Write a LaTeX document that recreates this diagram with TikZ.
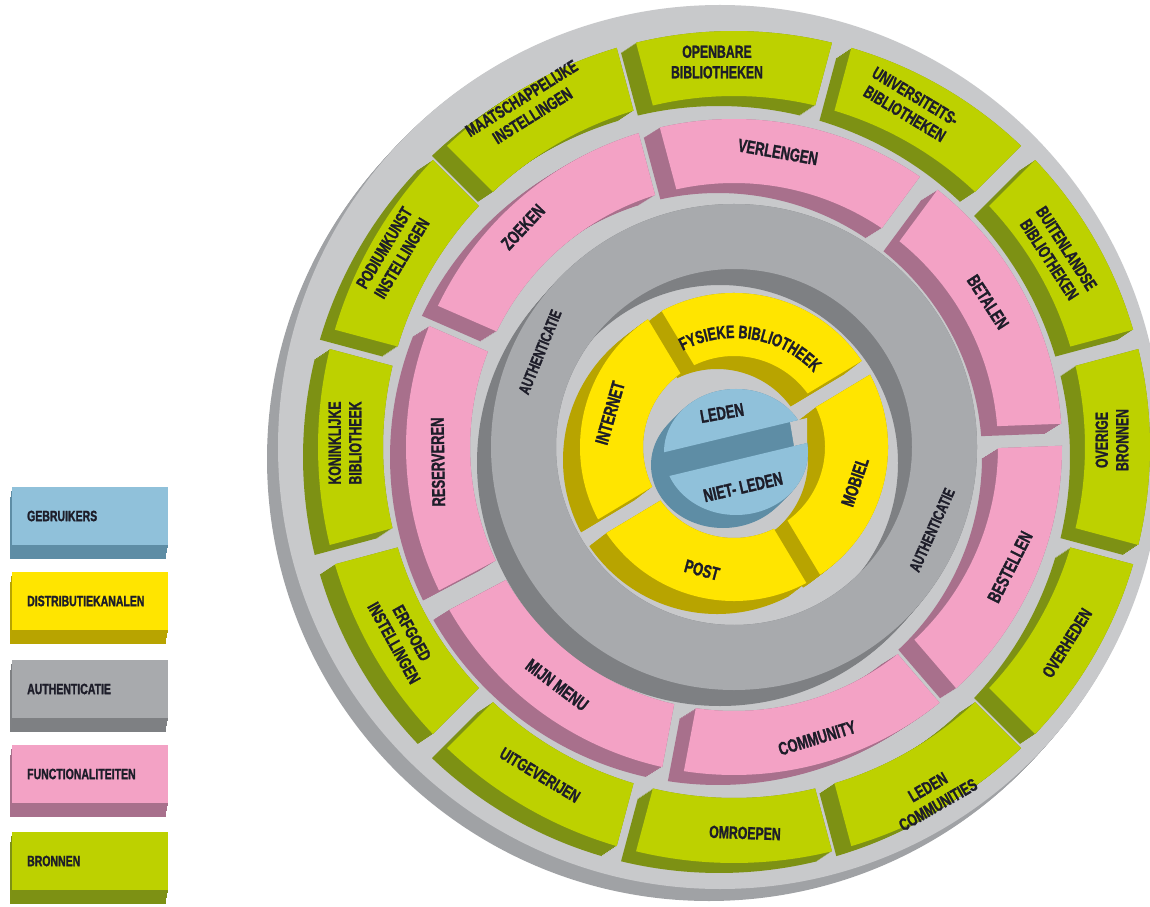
\documentclass[tikz,border=0pt]{standalone}
\usepackage{fontspec}
\newfontfamily\lblfont[FakeStretch=0.7,FakeBold=1.3]{Liberation Sans}
\usetikzlibrary{decorations.text}
\definecolor{discL}{HTML}{C8C9CB}
\definecolor{discD}{HTML}{A0A2A5}
\definecolor{grnL}{HTML}{BDD100}
\definecolor{grnD}{HTML}{7D9114}
\definecolor{pnkL}{HTML}{F3A2C5}
\definecolor{pnkD}{HTML}{A8708C}
\definecolor{gryL}{HTML}{A8AAAD}
\definecolor{gryD}{HTML}{7E8083}
\definecolor{ylwL}{HTML}{FFE500}
\definecolor{ylwD}{HTML}{B8A400}
\definecolor{bluL}{HTML}{90C1DA}
\definecolor{bluD}{HTML}{5E8DA5}
\definecolor{ink}{HTML}{1D1D29}
% a1 a2 ri ro halfgap
\newcommand\rsangles[5]{%
  \pgfmathsetmacro\rsAo{(#1)+asin((#5)/(#4))}%
  \pgfmathsetmacro\rsBo{(#2)-asin((#5)/(#4))}%
  \pgfmathsetmacro\rsAi{(#1)+asin((#5)/(#3))}%
  \pgfmathsetmacro\rsBi{(#2)-asin((#5)/(#3))}%
}
% a1 a2 ri ro h dx dy color
\newcommand\segdark[8]{%
  \rsangles{#1}{#2}{#3}{#4}{#5}%
  \foreach \kk in {0,1,...,10}{%
    \fill[#8,shift={({\kk*(#6)/10},{\kk*(#7)/10})}] (\rsAo:#4) arc[start angle=\rsAo,end angle=\rsBo,radius=#4] -- (\rsBi:#3) arc[start angle=\rsBi,end angle=\rsAi,radius=#3] -- cycle;}%
}
% a1 a2 ri ro h color
\newcommand\segtop[6]{%
  \rsangles{#1}{#2}{#3}{#4}{#5}%
  \fill[#6] (\rsAo:#4) arc[start angle=\rsAo,end angle=\rsBo,radius=#4] -- (\rsBi:#3) arc[start angle=\rsBi,end angle=\rsAi,radius=#3] -- cycle;%
}
\begin{document}
\begin{tikzpicture}[x=1pt,y=1pt]
\tikzset{
 lbl/.style={font=\lblfont\bfseries\fontsize{17.5}{20.5}\selectfont,text=ink,align=center,inner sep=0pt},
 plbl/.style={lbl,font=\lblfont\bfseries\fontsize{18.5}{21}\selectfont},
 albl/.style={lbl,font=\lblfont\bfseries\fontsize{16}{19}\selectfont},
 legtxt/.style={lbl,anchor=west,font=\lblfont\bfseries\fontsize{15}{18}\selectfont},
}
\useasboundingbox (0,0) rectangle (1150,906);
\fill[white] (0,0) rectangle (1150,906);
\clip (0,0) rectangle (1150,906);

% base disc
\begin{scope}[shift={(720,459)}]
 \foreach \kk in {1,...,10}{\fill[discD,shift={({-1.1*\kk},{-1.2*\kk})}] (0,0) circle[radius=442];}
 \fill[discL] (0,0) circle[radius=442];
\end{scope}

\begin{scope}[shift={(734,459)}]
 % side walls
 \foreach \cc in {90,60,...,-240}{\segdark{\cc-15}{\cc+15}{351}{416}{10}{-15}{-10}{grnD}}
 \foreach \pk in {0,...,6}{\segdark{105-51.4286*(\pk+1)}{105-51.4286*\pk}{264}{328}{11}{-16}{-10}{pnkD}}
 \foreach \kk in {0,...,10}{\fill[gryD,even odd rule,shift={({-1.4*\kk},{-1.6*\kk})}] (0,0) circle[radius=243] (0,0) circle[radius=178];}
 \foreach \aa/\bb in {31/121,-59/31,-149/-59,-239/-149}{\segdark{\aa}{\bb}{91}{154}{8}{-17}{-13}{ylwD}}
 % top faces
 \foreach \cc in {90,60,...,-240}{\segtop{\cc-15}{\cc+15}{351}{416}{10}{grnL}}
 \foreach \pk in {0,...,6}{\segtop{105-51.4286*(\pk+1)}{105-51.4286*\pk}{264}{328}{11}{pnkL}}
 \fill[gryL,even odd rule] (0,0) circle[radius=243] (0,0) circle[radius=178];
 \foreach \aa/\bb in {31/121,-59/31,-149/-59,-239/-149}{\segtop{\aa}{\bb}{91}{154}{8}{ylwL}}
\end{scope}

% users disc
\begin{scope}[shift={(736,454)}]
 \foreach \kk in {0,...,10}{\fill[bluD,shift={({-1.3*\kk},{-1.3*\kk})}] (0,0) ellipse[x radius=72,y radius=63];}
 \fill[discL] (54,30) -- (71,34) -- (71,9) -- (58,6) -- cycle;
 \begin{scope}
  \clip[shift={(0,17)},rotate=13.5] (-160,0) rectangle (160,160);
  \fill[bluL] (0,0) ellipse[x radius=72,y radius=63];
 \end{scope}
 \begin{scope}
  \clip[shift={(0,-8)},rotate=13.5] (-160,-160) rectangle (160,0);
  \fill[bluL] (0,0) ellipse[x radius=72,y radius=63];
 \end{scope}
\end{scope}

% BRONNEN labels
\node[lbl] (openbare) at (717,844) {OPENBARE\\BIBLIOTHEKEN};
\node[lbl,rotate=-31] (univ) at (910,801) {UNIVERSITEITS-\\BIBLIOTHEKEN};
\node[lbl,rotate=-57] (buiten) at (1058,652) {BUITENLANDSE\\BIBLIOTHEKEN};
\node[lbl,rotate=90] (overige) at (1112,466) {OVERIGE\\BRONNEN};
\node[lbl,rotate=58] (overheden) at (1067,263) {OVERHEDEN};
\node[lbl,rotate=30] (ledencom) at (933,110) {LEDEN\\COMMUNITIES};
\node[lbl,rotate=-2] (omroepen) at (745,73) {OMROEPEN};
\node[lbl,rotate=-31] (uitgev) at (540,131) {UITGEVERIJEN};
\node[lbl,rotate=-61] (erfgoed) at (403,268) {ERFGOED\\INSTELLINGEN};
\node[lbl,rotate=90] (konink) at (345,463) {KONINKLIJKE\\BIBLIOTHEEK};
\node[lbl,rotate=59] (podium) at (393,653) {PODIUMKUNST\\INSTELLINGEN};
\node[lbl,rotate=32] (maatsch) at (527,799) {MAATSCHAPPELIJKE\\INSTELLINGEN};

% FUNCTIONALITEITEN labels
\node[plbl,rotate=-10] (verlengen) at (778,754) {VERLENGEN};
\node[plbl,rotate=-57] (betalen) at (988,604) {BETALEN};
\node[plbl,rotate=63] (bestellen) at (1010,339) {BESTELLEN};
\node[plbl,rotate=17] (community) at (817,168) {COMMUNITY};
\node[plbl,rotate=-37] (mijnmenu) at (557,221) {MIJN MENU};
\node[plbl,rotate=91] (reserveren) at (438,444) {RESERVEREN};
\node[plbl,rotate=47] (zoeken) at (523,679) {ZOEKEN};

% AUTHENTICATIE labels
\node[albl,rotate=68] (authL) at (540,554) {AUTHENTICATIE};
\node[albl,rotate=66] (authR) at (932,376) {AUTHENTICATIE};

% DISTRIBUTIEKANALEN labels
\node[plbl,rotate=71] (mobiel) at (855,424) {MOBIEL};
\node[plbl,rotate=-15] (post) at (702,336) {POST};
\node[plbl,rotate=74] (internet) at (610,493) {INTERNET};
\path[decorate,decoration={text along path,text align=center,
  text={|\lblfont\bfseries\fontsize{18}{20}\selectfont\color{ink}|FYSIEKE BIBLIOTHEEK}}]
  (734,459) ++(119:109) arc[start angle=119,end angle=42,radius=109];

% GEBRUIKERS labels
\node[plbl,rotate=10] (leden) at (722,493) {LEDEN};
\node[plbl,rotate=13] (nietleden) at (743,419) {NIET- LEDEN};

% legend
\foreach \tt/\cl/\cd/\txt [count=\n] in {487/bluL/bluD/GEBRUIKERS,572/ylwL/ylwD/DISTRIBUTIEKANALEN,660/gryL/gryD/AUTHENTICATIE,745/pnkL/pnkD/FUNCTIONALITEITEN,832/grnL/grnD/BRONNEN}{
  \foreach \kk in {1,...,10}{\fill[\cd,shift={({-0.25*\kk},{-1.4*\kk})}] (12,{906-\tt-58}) rectangle (168,{906-\tt});}
  \fill[\cl] (12,{906-\tt-58}) rectangle (168,{906-\tt});
  \node[legtxt] (leg\n) at (27,{906-\tt-29}) {\txt};
}
\end{tikzpicture}
\end{document}
